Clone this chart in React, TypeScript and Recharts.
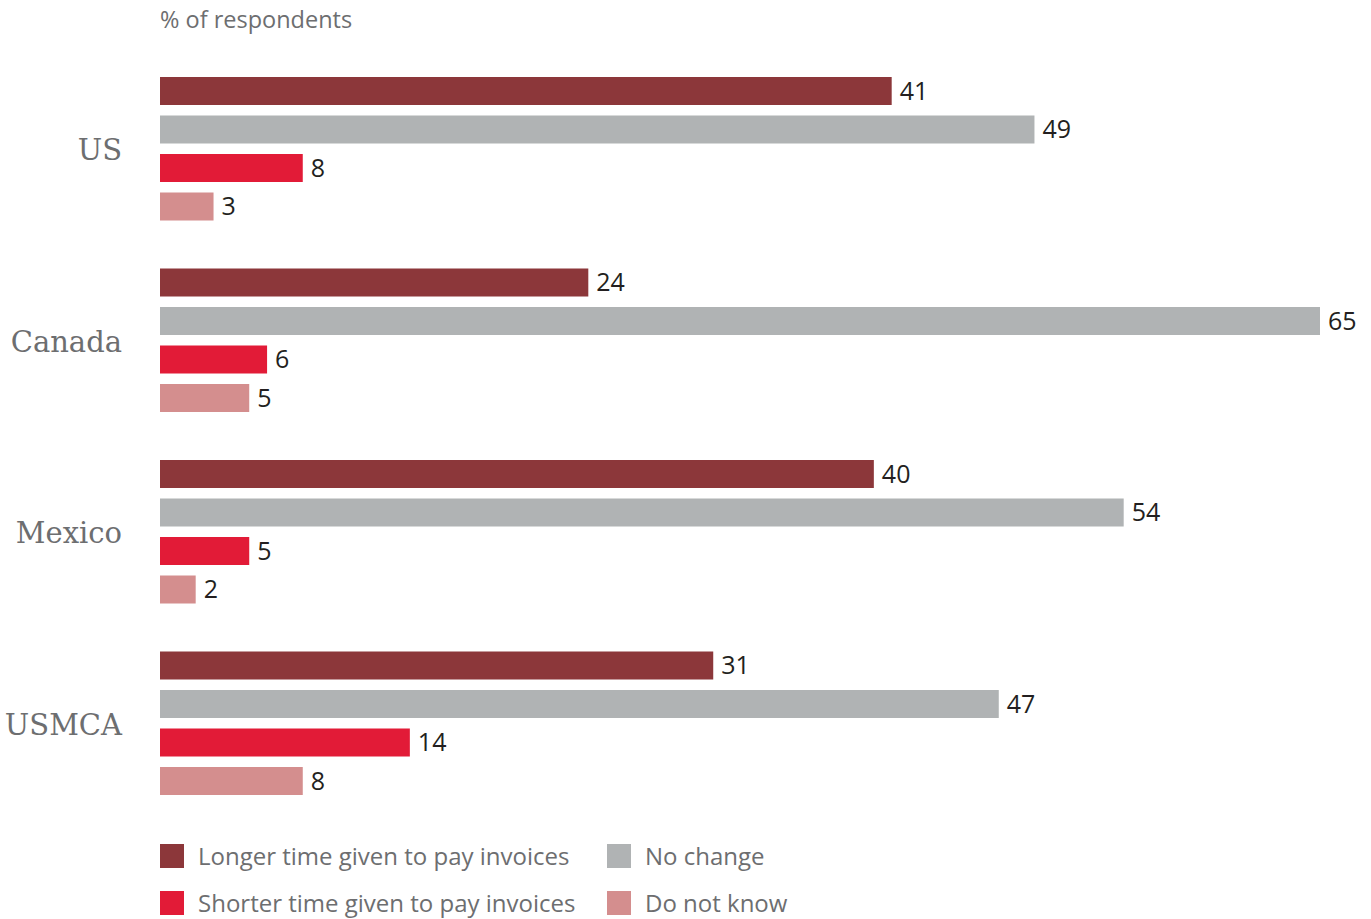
import { Bar, BarChart, LabelList, XAxis, YAxis } from "recharts";

const regions = ["US", "Canada", "Mexico", "USMCA"];
const longerTime = [41, 24, 40, 31];
const noChange = [49, 65, 54, 47];
const shorterTime = [8, 6, 5, 14];
const doNotKnow = [3, 5, 2, 8];

const seriesNames = [
  "Longer time given to pay invoices",
  "No change",
  "Shorter time given to pay invoices",
  "Do not know"
];
const seriesKeys = ["longer", "nochange", "shorter", "dontknow"];
const seriesColors = ["#8c373a", "#b0b3b4", "#e21b37", "#d48e8e"];

const data = regions.map((name, i) => ({
  name,
  longer: longerTime[i],
  nochange: noChange[i],
  shorter: shorterTime[i],
  dontknow: doNotKnow[i]
}));

const sans = "'Open Sans', 'Noto Sans', sans-serif";

// legend order: row by row, two columns
const legendRows = [
  [0, 1],
  [2, 3]
];

export default function App() {
  return (
    <div style={{ position: "absolute", left: 0, top: 0, width: 1371, height: 919, background: "#fff" }}>
      <div
        style={{
          position: "absolute",
          left: 160,
          top: 3,
          fontFamily: sans,
          fontSize: 23.5,
          color: "#6d6e70"
        }}
      >
        % of respondents
      </div>

      <BarChart
        width={1371}
        height={919}
        data={data}
        layout="vertical"
        margin={{ top: 53, right: 51, bottom: 100, left: 0 }}
        barSize={28}
        barGap={10.5}
      >
        <XAxis type="number" domain={[0, 65]} hide />
        <YAxis
          type="category"
          dataKey="name"
          width={160}
          axisLine={false}
          tickLine={false}
          tickSize={0}
          tickMargin={38}
          tick={{ fill: "#6d6e70", fontSize: 29, fontFamily: "'DejaVu Serif', serif", dy: 1 }}
        />
        {seriesKeys.map((key, i) => (
          <Bar key={key} dataKey={key} name={seriesNames[i]} fill={seriesColors[i]} isAnimationActive={false}>
            <LabelList
              dataKey={key}
              position="right"
              offset={8}
              style={{ fill: "#231f20", fontSize: 25, fontFamily: sans }}
            />
          </Bar>
        ))}
      </BarChart>

      {legendRows.map((row, r) =>
        row.map((idx, c) => (
          <div
            key={idx}
            style={{
              position: "absolute",
              left: c === 0 ? 160 : 607,
              top: 844 + r * 47,
              display: "flex",
              alignItems: "center",
              height: 24,
              fontFamily: sans,
              fontSize: 24,
              color: "#6d6e70",
              whiteSpace: "nowrap"
            }}
          >
            <span style={{ width: 24, height: 24, background: seriesColors[idx], marginRight: 14, display: "inline-block", flexShrink: 0 }} />
            <span style={{ position: "relative", top: -1 }}>{seriesNames[idx]}</span>
          </div>
        ))
      )}
    </div>
  );
}
